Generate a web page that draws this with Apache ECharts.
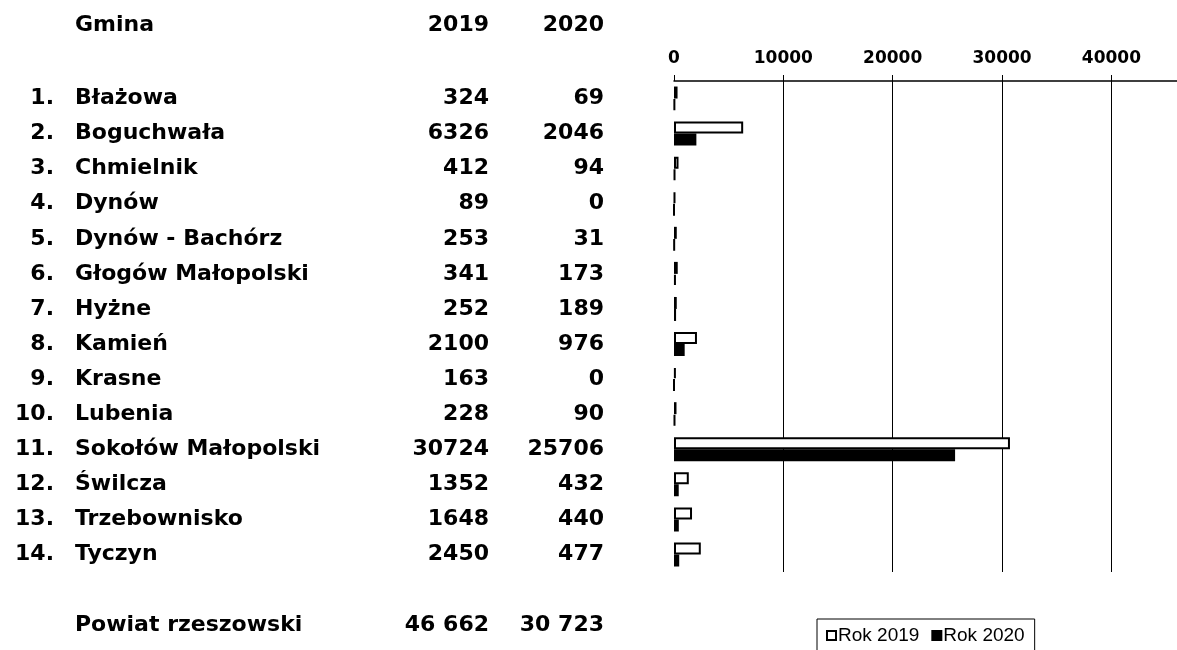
<!DOCTYPE html>
<html>
<head>
<meta charset="utf-8">
<script src="https://cdn.jsdelivr.net/npm/echarts@6/dist/echarts.min.js"></script>
<style>
  html, body { margin: 0; padding: 0; background: #fff; }
  #char { width: 1177px; height: 650px; }
</style>
</head>
<body>
<div id="char"></div>
<script>
// dane
var lp = ["1.", "2.", "3.", "4.", "5.", "6.", "7.", "8.", "9.", "10.", "11.", "12.", "13.", "14."];
var gminy = ["Błażowa", "Boguchwała", "Chmielnik", "Dynów", "Dynów - Bachórz", "Głogów Małopolski",
  "Hyżne", "Kamień", "Krasne", "Lubenia", "Sokołów Małopolski", "Świlcza", "Trzebownisko", "Tyczyn"];
var rok2019 = [324, 6326, 412, 89, 253, 341, 252, 2100, 163, 228, 30724, 1352, 1648, 2450];
var rok2020 = [69, 2046, 94, 0, 31, 173, 189, 976, 0, 90, 25706, 432, 440, 477];
var naglowek = ["Gmina", "2019", "2020"];
var suma = ["Powiat rzeszowski", "46 662", "30 723"];
var seriesNames = ["Rok 2019", "Rok 2020"];

var bold = "DejaVu Sans";
var tableFont = { color: "#000", fontFamily: bold, fontWeight: "bold", fontSize: 22 };
var textFont = "bold 22px DejaVu Sans";
var col2019 = 489, col2020 = 604;

function labelAxis(data, margin, align) {
  return {
    type: "category",
    position: "left",
    inverse: true,
    offset: 0,
    data: data,
    axisLine: { show: false },
    axisTick: { show: false },
    splitLine: { show: false },
    axisLabel: Object.assign({ margin: margin, align: align, interval: 0 }, tableFont)
  };
}

var myChart = echarts.init(document.getElementById("char"));
var option = {
  backgroundColor: "#fff",
  animation: false,
  grid: { left: 674, top: 81, right: 0, height: 491, containLabel: false, outerBoundsMode: "none" },
  xAxis: {
    type: "value",
    position: "top",
    min: 0,
    max: 46000,
    interval: 10000,
    axisLine: { show: true, lineStyle: { color: "#000", width: 1.5 } },
    axisTick: { show: true, inside: false, length: 6, lineStyle: { color: "#000", width: 1 } },
    axisLabel: {
      showMaxLabel: false,
      margin: 14,
      color: "#000",
      fontFamily: bold,
      fontWeight: "bold",
      fontSize: 17,
      formatter: function (v) { return String(v); }
    },
    splitLine: { show: true, showMinLine: false, showMaxLine: false, lineStyle: { color: "#000", width: 1 } }
  },
  yAxis: [
    labelAxis(gminy, 599, "left"),
    labelAxis(lp, 620, "right"),
    labelAxis(rok2019, 674 - col2019, "right"),
    labelAxis(rok2020, 674 - col2020, "right")
  ],
  legend: {
    left: 817,
    top: 619,
    padding: [7, 10, 8, 9],
    borderColor: "#000",
    borderWidth: 1,
    icon: "rect",
    itemWidth: 9,
    itemHeight: 9,
    itemGap: 12,
    textStyle: { color: "#000", fontFamily: "Liberation Sans", fontSize: 19, padding: [0, 0, 0, -3] },
    data: seriesNames
  },
  series: [
    {
      name: seriesNames[0],
      type: "bar",
      yAxisIndex: 0,
      barWidth: 12,
      barGap: "0%",
      itemStyle: { color: "#fff", borderColor: "#000", borderWidth: 2 },
      data: rok2019
    },
    {
      name: seriesNames[1],
      type: "bar",
      yAxisIndex: 0,
      barWidth: 12,
      barGap: "0%",
      itemStyle: { color: "#000", borderColor: "#000", borderWidth: 2 },
      data: rok2020
    }
  ],
  graphic: [
    { type: "text", left: 75, top: 14, style: { text: naglowek[0], fill: "#000", font: textFont } },
    { type: "text", right: 1177 - col2019, top: 14, style: { text: naglowek[1], fill: "#000", font: textFont } },
    { type: "text", right: 1177 - col2020, top: 14, style: { text: naglowek[2], fill: "#000", font: textFont } },
    { type: "text", left: 75, top: 614, style: { text: suma[0], fill: "#000", font: textFont } },
    { type: "text", right: 1177 - col2019, top: 614, style: { text: suma[1], fill: "#000", font: textFont } },
    { type: "text", right: 1177 - col2020, top: 614, style: { text: suma[2], fill: "#000", font: textFont } }
  ]
};
myChart.setOption(option);
</script>
</body>
</html>
